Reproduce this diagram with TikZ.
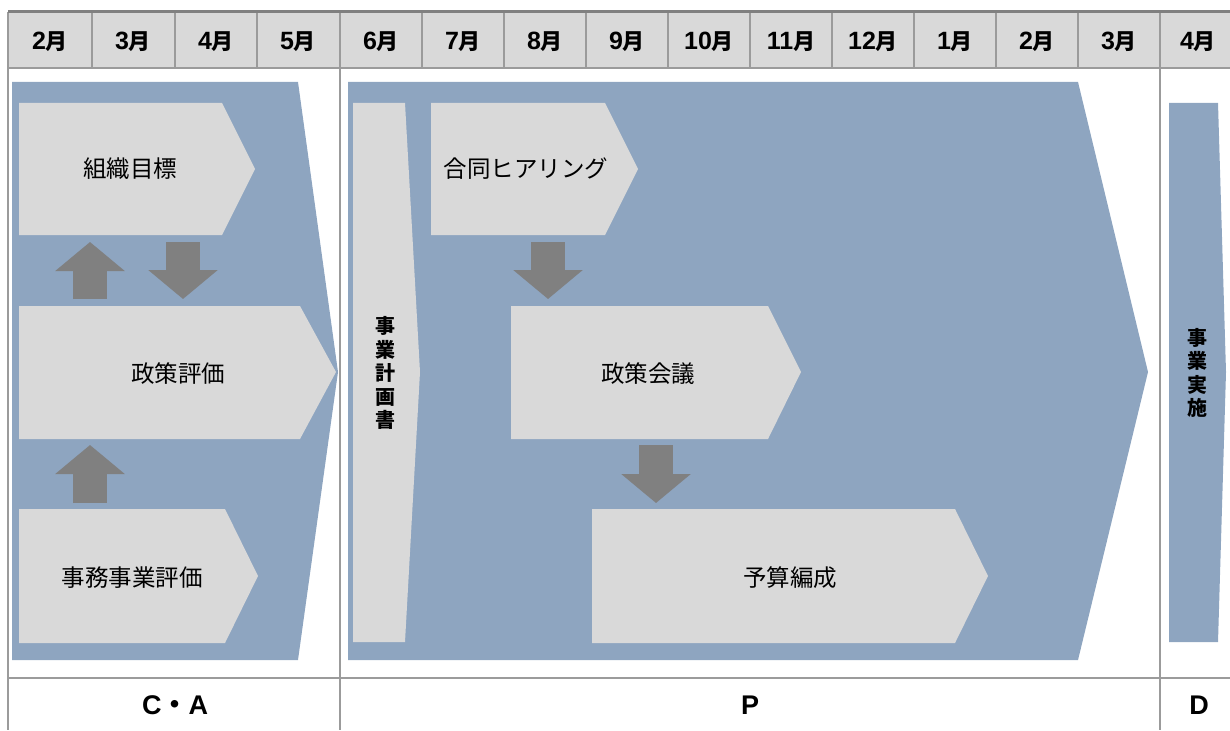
\documentclass[tikz,border=0pt]{standalone}
\usepackage{fontspec}
\setmainfont{Noto Sans CJK JP}
\newfontfamily\latin{Liberation Sans}
\usepackage{tikz}
\usetikzlibrary{arrows.meta}

\definecolor{phaseblue}{RGB}{142,165,192}
\definecolor{boxgray}{RGB}{217,217,217}
\definecolor{arrgray}{RGB}{128,128,128}
\definecolor{rulegray}{RGB}{155,155,155}

\newcommand\mth[1]{{\latin\fontsize{25}{25}\selectfont #1}月}

\tikzset{
  monthtext/.style={font=\bfseries\fontsize{22}{22}\selectfont},
  phasetext/.style={font=\bfseries\fontsize{27}{27}\selectfont},
  boxtext/.style={font=\fontsize{23.5}{23.5}\selectfont},
  vboxtext/.style={font=\bfseries\fontsize{20}{23.5}\selectfont,align=center},
  blockarrow/.style={draw=arrgray,line width=34pt,line cap=butt,
    -{Triangle[width=68pt,length=29pt]}},
}

\begin{document}
\begin{tikzpicture}[y=1pt, x=1pt, yscale=-1, inner sep=0pt, outer sep=0pt]
\useasboundingbox (0,0) rectangle (1230,730);

  % header row
  \path[fill=boxgray] (8,12) rectangle (1230,68);
  \path[draw=rulegray,line width=1.2pt]
    (92,12) -- (92,68) (175,12) -- (175,68) (257,12) -- (257,68)
    (422,12) -- (422,68) (504,12) -- (504,68) (586,12) -- (586,68)
    (668,12) -- (668,68) (750,12) -- (750,68) (832,12) -- (832,68)
    (914,12) -- (914,68) (996,12) -- (996,68) (1078,12) -- (1078,68);
  \path[draw=rulegray,line width=1.2pt] (8,68) -- (1230,68);
  \path[draw=rulegray,line width=1.2pt] (8,678) -- (1230,678);
  \path[draw=rulegray,line width=1.2pt] (8,12) -- (8,730)
    (340,12) -- (340,730) (1160,12) -- (1160,730);
  \path[draw=arrgray,line width=3pt] (8,12) -- (1230,12);

  \path (50,42) node[monthtext] (feb) {\mth{2}};
  \path (133,42) node[monthtext] (mar) {\mth{3}};
  \path (216,42) node[monthtext] (apr) {\mth{4}};
  \path (298,42) node[monthtext] (may) {\mth{5}};
  \path (381,42) node[monthtext] (jun) {\mth{6}};
  \path (463,42) node[monthtext] (jul) {\mth{7}};
  \path (545,42) node[monthtext] (aug) {\mth{8}};
  \path (627,42) node[monthtext] (sep) {\mth{9}};
  \path (709,42) node[monthtext] (oct) {\mth{10}};
  \path (791,42) node[monthtext] (nov) {\mth{11}};
  \path (873,42) node[monthtext] (dec) {\mth{12}};
  \path (955,42) node[monthtext] (jan) {\mth{1}};
  \path (1037,42) node[monthtext] (febb) {\mth{2}};
  \path (1119,42) node[monthtext] (marb) {\mth{3}};
  \path (1198,42) node[monthtext] (aprb) {\mth{4}};

  % phase chevrons
  \path[fill=phaseblue] (12,82) -- (298,82) -- (338,372) -- (298,660) --
    (12,660) -- cycle;
  \path[fill=phaseblue] (348,82) -- (1078,82) -- (1148,372) -- (1078,660) --
    (348,660) -- cycle;
  \path[fill=phaseblue] (1169,103) -- (1218,103) -- (1226,372) --
    (1218,642) -- (1169,642) -- cycle;

  % C-A boxes
  \path[fill=boxgray] (19,103) -- (222,103) -- (255,169) -- (222,235) --
    (19,235) -- cycle;
  \path[fill=boxgray] (19,306) -- (300,306) -- (336,372) -- (300,439) --
    (19,439) -- cycle;
  \path[fill=boxgray] (19,509) -- (225,509) -- (258,576) -- (225,643) --
    (19,643) -- cycle;

  % P boxes
  \path[fill=boxgray] (353,103) -- (405,103) -- (420,372) -- (405,642) --
    (353,642) -- cycle;
  \path[fill=boxgray] (431,103) -- (605,103) -- (638,169) -- (605,235) --
    (431,235) -- cycle;
  \path[fill=boxgray] (511,306) -- (768,306) -- (801,372) -- (768,439) --
    (511,439) -- cycle;
  \path[fill=boxgray] (592,509) -- (955,509) -- (988,576) -- (955,643) --
    (592,643) -- cycle;

  % labels
  \path (130,169) node[boxtext] (soshiki) {組織目標};
  \path (178,374) node[boxtext] (seisakuhyoka) {政策評価};
  \path (132,578) node[boxtext] (jimujigyo) {事務事業評価};
  \path (385,373) node[vboxtext] (keikaku) {事\\業\\計\\画\\書};
  \path (526,169) node[boxtext] (hearing) {合同ヒアリング};
  \path (648,374) node[boxtext] (kaigi) {政策会議};
  \path (790,578) node[boxtext] (yosan) {予算編成};
  \path (1197,373) node[vboxtext] (jisshi) {事\\業\\実\\施};

  % block arrows
  \coordinate (upAs) at (90,299);
  \coordinate (upAe) at (90,242);
  \coordinate (dnAs) at (183,242);
  \coordinate (dnAe) at (183,299);
  \coordinate (upBs) at (90,503);
  \coordinate (upBe) at (90,445);
  \coordinate (dnBs) at (548,242);
  \coordinate (dnBe) at (548,299);
  \coordinate (dnCs) at (656,445);
  \coordinate (dnCe) at (656,503);
  \draw[blockarrow] (upAs) -- (upAe);
  \draw[blockarrow] (dnAs) -- (dnAe);
  \draw[blockarrow] (upBs) -- (upBe);
  \draw[blockarrow] (dnBs) -- (dnBe);
  \draw[blockarrow] (dnCs) -- (dnCe);

  % phase names
  \path (175,705) node[phasetext] (ca) {{\latin C}・{\latin A}};
  \path (750,705) node[phasetext] (plan) {\latin P};
  \path (1199,705) node[phasetext] (doo) {\latin D};

\end{tikzpicture}
\end{document}
